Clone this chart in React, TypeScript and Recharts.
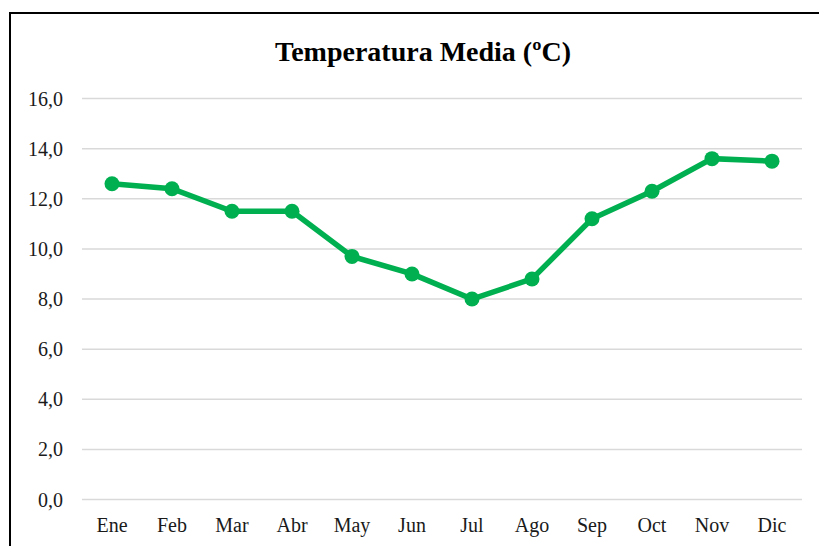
import React from 'react';
import { LineChart, Line, XAxis, YAxis, CartesianGrid } from 'recharts';

const months = ['Ene', 'Feb', 'Mar', 'Abr', 'May', 'Jun', 'Jul', 'Ago', 'Sep', 'Oct', 'Nov', 'Dic'];
const temps = [12.6, 12.4, 11.5, 11.5, 9.7, 9.0, 8.0, 8.8, 11.2, 12.3, 13.6, 13.5];
const yTicks = [0, 2, 4, 6, 8, 10, 12, 14, 16];

const data = months.map((m, i) => ({ month: m, temp: temps[i] }));

const fmt = (v: number) => v.toFixed(1).replace('.', ',');

const App: React.FC = () => {
  return (
    <div style={{ position: 'fixed', left: 0, top: 0, width: 819, height: 546, overflow: 'hidden', background: '#fff' }}>
      <div
        style={{
          position: 'absolute',
          left: 9,
          top: 12,
          width: 824,
          height: 560,
          border: '2px solid #000',
          background: '#fff',
        }}
      >
        <div
          style={{
            position: 'absolute',
            left: 0,
            right: 0,
            top: 22,
            textAlign: 'center',
            fontFamily: '"Liberation Serif", serif',
            fontWeight: 'bold',
            fontSize: 28,
            color: '#000',
          }}
        >
          Temperatura Media (ºC)
        </div>
        <LineChart
          width={820}
          height={545}
          data={data}
          margin={{ top: 84.5, right: 29, bottom: 19.5, left: 0 }}
        >
          <CartesianGrid stroke="#d9d9d9" strokeWidth={1.5} vertical={false} />
          <XAxis
            dataKey="month"
            axisLine={false}
            tickLine={false}
            height={40}
            tickMargin={12}
            interval={0}
            padding={{ left: 30, right: 30 }}
            tick={{ fontFamily: '"Liberation Serif", serif', fontSize: 20, fill: '#1a1a1a' }}
          />
          <YAxis
            domain={[0, 16]}
            ticks={yTicks}
            width={71}
            axisLine={false}
            tickLine={false}
            tickMargin={13}
            tickFormatter={fmt}
            tick={{ fontFamily: '"Liberation Serif", serif', fontSize: 20, fill: '#1a1a1a' }}
          />
          <Line
            type="linear"
            dataKey="temp"
            stroke="#00b050"
            strokeWidth={5.5}
            dot={{ r: 7.5, fill: '#00b050', stroke: 'none' }}
            isAnimationActive={false}
          />
        </LineChart>
      </div>
    </div>
  );
};

export default App;
